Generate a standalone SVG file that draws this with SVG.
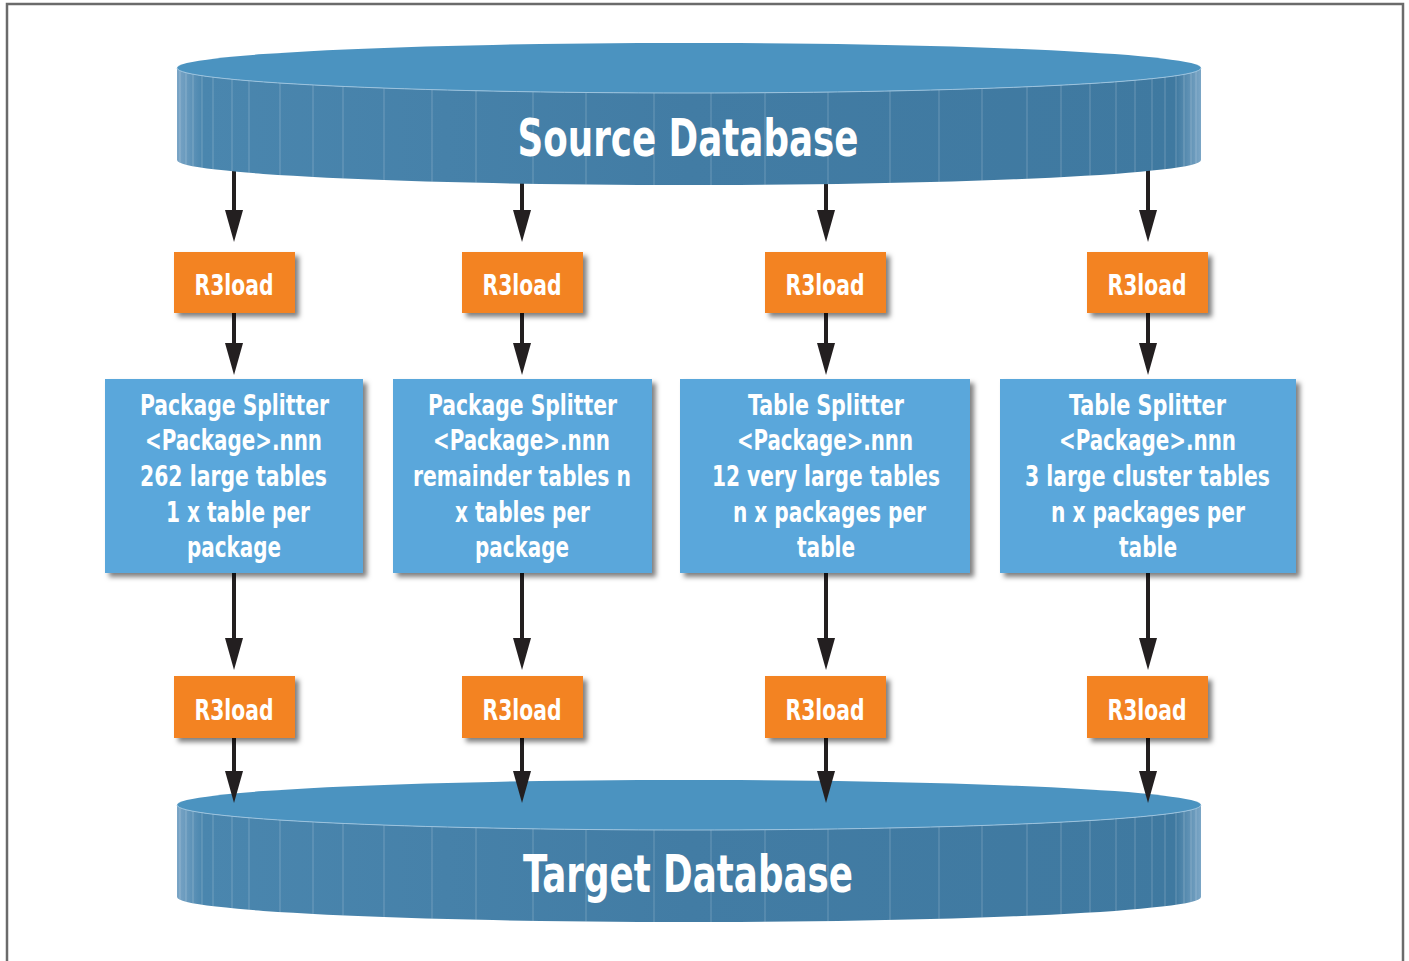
<svg xmlns="http://www.w3.org/2000/svg" xmlns:xlink="http://www.w3.org/1999/xlink" width="1409" height="961" viewBox="0 0 1409 961">
<style>
.txt{font-family:"Liberation Sans Narrow","DejaVu Sans Condensed","Liberation Sans",sans-serif;font-weight:bold;fill:#ffffff;text-anchor:middle}
.db{font-size:52px}
.r3{font-size:29px}
.sp{font-size:28.5px}
.r3box{fill:#f38321}
.spbox{fill:#5aa7db}
.conn{stroke:#231f20;stroke-width:4;fill:none;marker-end:url(#ah)}
.stripe{stroke:#ffffff;stroke-opacity:0.22;stroke-width:1}
</style>
<defs>
<marker id="ah" viewBox="0 -9 32 18" refX="8" refY="0" markerWidth="32" markerHeight="18" markerUnits="userSpaceOnUse" orient="auto">
<path d="M0,-9 L32,0 L0,9 Z" fill="#231f20"/>
</marker>
<filter id="sh" x="-20%" y="-20%" width="150%" height="150%">
<feDropShadow dx="4" dy="4" stdDeviation="2.5" flood-color="#000" flood-opacity="0.5"/>
</filter>
<linearGradient id="side" x1="0" y1="0" x2="1" y2="0">
<stop offset="0" stop-color="#7aa5c6"/>
<stop offset="0.025" stop-color="#4a86ae"/>
<stop offset="0.5" stop-color="#427ca4"/>
<stop offset="0.975" stop-color="#3f79a0"/>
<stop offset="1" stop-color="#7ba6c6"/>
</linearGradient>
<clipPath id="sideclip">
<path d="M-512,0 A512,25 0 0 0 512,0 L512,92 A512,25 0 0 1 -512,92 Z"/>
</clipPath>
<g id="cyl">
<path d="M-512,0 A512,25 0 0 0 512,0 L512,92 A512,25 0 0 1 -512,92 Z" fill="url(#side)"/>
<g clip-path="url(#sideclip)">
<path class="stripe" d="M-509,0V120M-503,0V120M-496,0V120M-487,0V120M-476,0V120M-457,0V120M-440,0V120M-409,0V120M-376,0V120M-346,0V120M-305,0V120M-257,0V120M-213,0V120M-156,0V120M-103,0V120M-35,0V120M22,0V120M76,0V120M139,0V120M201,0V120M250,0V120M293,0V120M338,0V120M372,0V120M401,0V120M427,0V120M446,0V120M463,0V120M476,0V120M487,0V120M495,0V120M502,0V120M507,0V120"/>
</g>
<ellipse cx="0" cy="0" rx="512" ry="25" fill="#4b93c0"/>
<path d="M-512,0 A512,25 0 0 0 512,0" fill="none" stroke="#9cc3de" stroke-width="1"/>
</g>
</defs>
<rect x="0" y="0" width="1409" height="961" fill="#ffffff"/>
<path d="M7,961 V4 H1403 V961" fill="none" stroke="#6b6b6b" stroke-width="2.5"/>

<g id="connectors">
<line class="conn" x1="234" y1="165" x2="234" y2="218"/>
<line class="conn" x1="522" y1="175" x2="522" y2="218"/>
<line class="conn" x1="826" y1="175" x2="826" y2="218"/>
<line class="conn" x1="1148" y1="165" x2="1148" y2="218"/>
<line class="conn" x1="234" y1="313" x2="234" y2="351"/>
<line class="conn" x1="522" y1="313" x2="522" y2="351"/>
<line class="conn" x1="826" y1="313" x2="826" y2="351"/>
<line class="conn" x1="1148" y1="313" x2="1148" y2="351"/>
<line class="conn" x1="234" y1="573" x2="234" y2="646"/>
<line class="conn" x1="522" y1="573" x2="522" y2="646"/>
<line class="conn" x1="826" y1="573" x2="826" y2="646"/>
<line class="conn" x1="1148" y1="573" x2="1148" y2="646"/>
</g>

<g id="source-db">
<use xlink:href="#cyl" transform="translate(689,68)"/>
<text class="txt db" x="688" y="156" textLength="341" lengthAdjust="spacingAndGlyphs">Source Database</text>
</g>

<g id="target-db">
<use xlink:href="#cyl" transform="translate(689,805)"/>
<text class="txt db" x="688" y="892" textLength="330" lengthAdjust="spacingAndGlyphs">Target Database</text>
</g>

<g id="connectors-bottom">
<line class="conn" x1="234" y1="738" x2="234" y2="779"/>
<line class="conn" x1="522" y1="738" x2="522" y2="779"/>
<line class="conn" x1="826" y1="738" x2="826" y2="779"/>
<line class="conn" x1="1148" y1="738" x2="1148" y2="779"/>
</g>

<g id="r3load-top-1"><rect class="r3box" x="174" y="252" width="121" height="61" filter="url(#sh)"/><text class="txt r3" x="234" y="295" textLength="79" lengthAdjust="spacingAndGlyphs">R3load</text></g>
<g id="r3load-top-2"><rect class="r3box" x="462" y="252" width="121" height="61" filter="url(#sh)"/><text class="txt r3" x="522" y="295" textLength="79" lengthAdjust="spacingAndGlyphs">R3load</text></g>
<g id="r3load-top-3"><rect class="r3box" x="765" y="252" width="121" height="61" filter="url(#sh)"/><text class="txt r3" x="825" y="295" textLength="79" lengthAdjust="spacingAndGlyphs">R3load</text></g>
<g id="r3load-top-4"><rect class="r3box" x="1087" y="252" width="121" height="61" filter="url(#sh)"/><text class="txt r3" x="1147" y="295" textLength="79" lengthAdjust="spacingAndGlyphs">R3load</text></g>

<g id="splitter-1"><rect class="spbox" x="105" y="379" width="258" height="194" filter="url(#sh)"/>
<text class="txt sp" x="234.5" y="415" textLength="189" lengthAdjust="spacingAndGlyphs">Package Splitter</text>
<text class="txt sp" x="233.5" y="450" textLength="177" lengthAdjust="spacingAndGlyphs">&lt;Package&gt;.nnn</text>
<text class="txt sp" x="233.5" y="486" textLength="187" lengthAdjust="spacingAndGlyphs">262 large tables</text>
<text class="txt sp" x="238" y="522" textLength="144" lengthAdjust="spacingAndGlyphs">1 x table per</text>
<text class="txt sp" x="234" y="557" textLength="94" lengthAdjust="spacingAndGlyphs">package</text></g>

<g id="splitter-2"><rect class="spbox" x="393" y="379" width="259" height="194" filter="url(#sh)"/>
<text class="txt sp" x="522.5" y="415" textLength="189" lengthAdjust="spacingAndGlyphs">Package Splitter</text>
<text class="txt sp" x="521.5" y="450" textLength="177" lengthAdjust="spacingAndGlyphs">&lt;Package&gt;.nnn</text>
<text class="txt sp" x="522" y="486" textLength="218" lengthAdjust="spacingAndGlyphs">remainder tables n</text>
<text class="txt sp" x="522.5" y="522" textLength="135" lengthAdjust="spacingAndGlyphs">x tables per</text>
<text class="txt sp" x="522" y="557" textLength="94" lengthAdjust="spacingAndGlyphs">package</text></g>

<g id="splitter-3"><rect class="spbox" x="680" y="379" width="290" height="194" filter="url(#sh)"/>
<text class="txt sp" x="826" y="415" textLength="156" lengthAdjust="spacingAndGlyphs">Table Splitter</text>
<text class="txt sp" x="825" y="450" textLength="176" lengthAdjust="spacingAndGlyphs">&lt;Package&gt;.nnn</text>
<text class="txt sp" x="826" y="486" textLength="228" lengthAdjust="spacingAndGlyphs">12 very large tables</text>
<text class="txt sp" x="829.5" y="522" textLength="193" lengthAdjust="spacingAndGlyphs">n x packages per</text>
<text class="txt sp" x="826" y="557" textLength="58" lengthAdjust="spacingAndGlyphs">table</text></g>

<g id="splitter-4"><rect class="spbox" x="1000" y="379" width="296" height="194" filter="url(#sh)"/>
<text class="txt sp" x="1147.5" y="415" textLength="157" lengthAdjust="spacingAndGlyphs">Table Splitter</text>
<text class="txt sp" x="1147.5" y="450" textLength="177" lengthAdjust="spacingAndGlyphs">&lt;Package&gt;.nnn</text>
<text class="txt sp" x="1147.5" y="486" textLength="245" lengthAdjust="spacingAndGlyphs">3 large cluster tables</text>
<text class="txt sp" x="1148" y="522" textLength="194" lengthAdjust="spacingAndGlyphs">n x packages per</text>
<text class="txt sp" x="1148" y="557" textLength="58" lengthAdjust="spacingAndGlyphs">table</text></g>

<g id="r3load-bottom-1"><rect class="r3box" x="174" y="676" width="121" height="62" filter="url(#sh)"/><text class="txt r3" x="234" y="720" textLength="79" lengthAdjust="spacingAndGlyphs">R3load</text></g>
<g id="r3load-bottom-2"><rect class="r3box" x="462" y="676" width="121" height="62" filter="url(#sh)"/><text class="txt r3" x="522" y="720" textLength="79" lengthAdjust="spacingAndGlyphs">R3load</text></g>
<g id="r3load-bottom-3"><rect class="r3box" x="765" y="676" width="121" height="62" filter="url(#sh)"/><text class="txt r3" x="825" y="720" textLength="79" lengthAdjust="spacingAndGlyphs">R3load</text></g>
<g id="r3load-bottom-4"><rect class="r3box" x="1087" y="676" width="121" height="62" filter="url(#sh)"/><text class="txt r3" x="1147" y="720" textLength="79" lengthAdjust="spacingAndGlyphs">R3load</text></g>
</svg>
